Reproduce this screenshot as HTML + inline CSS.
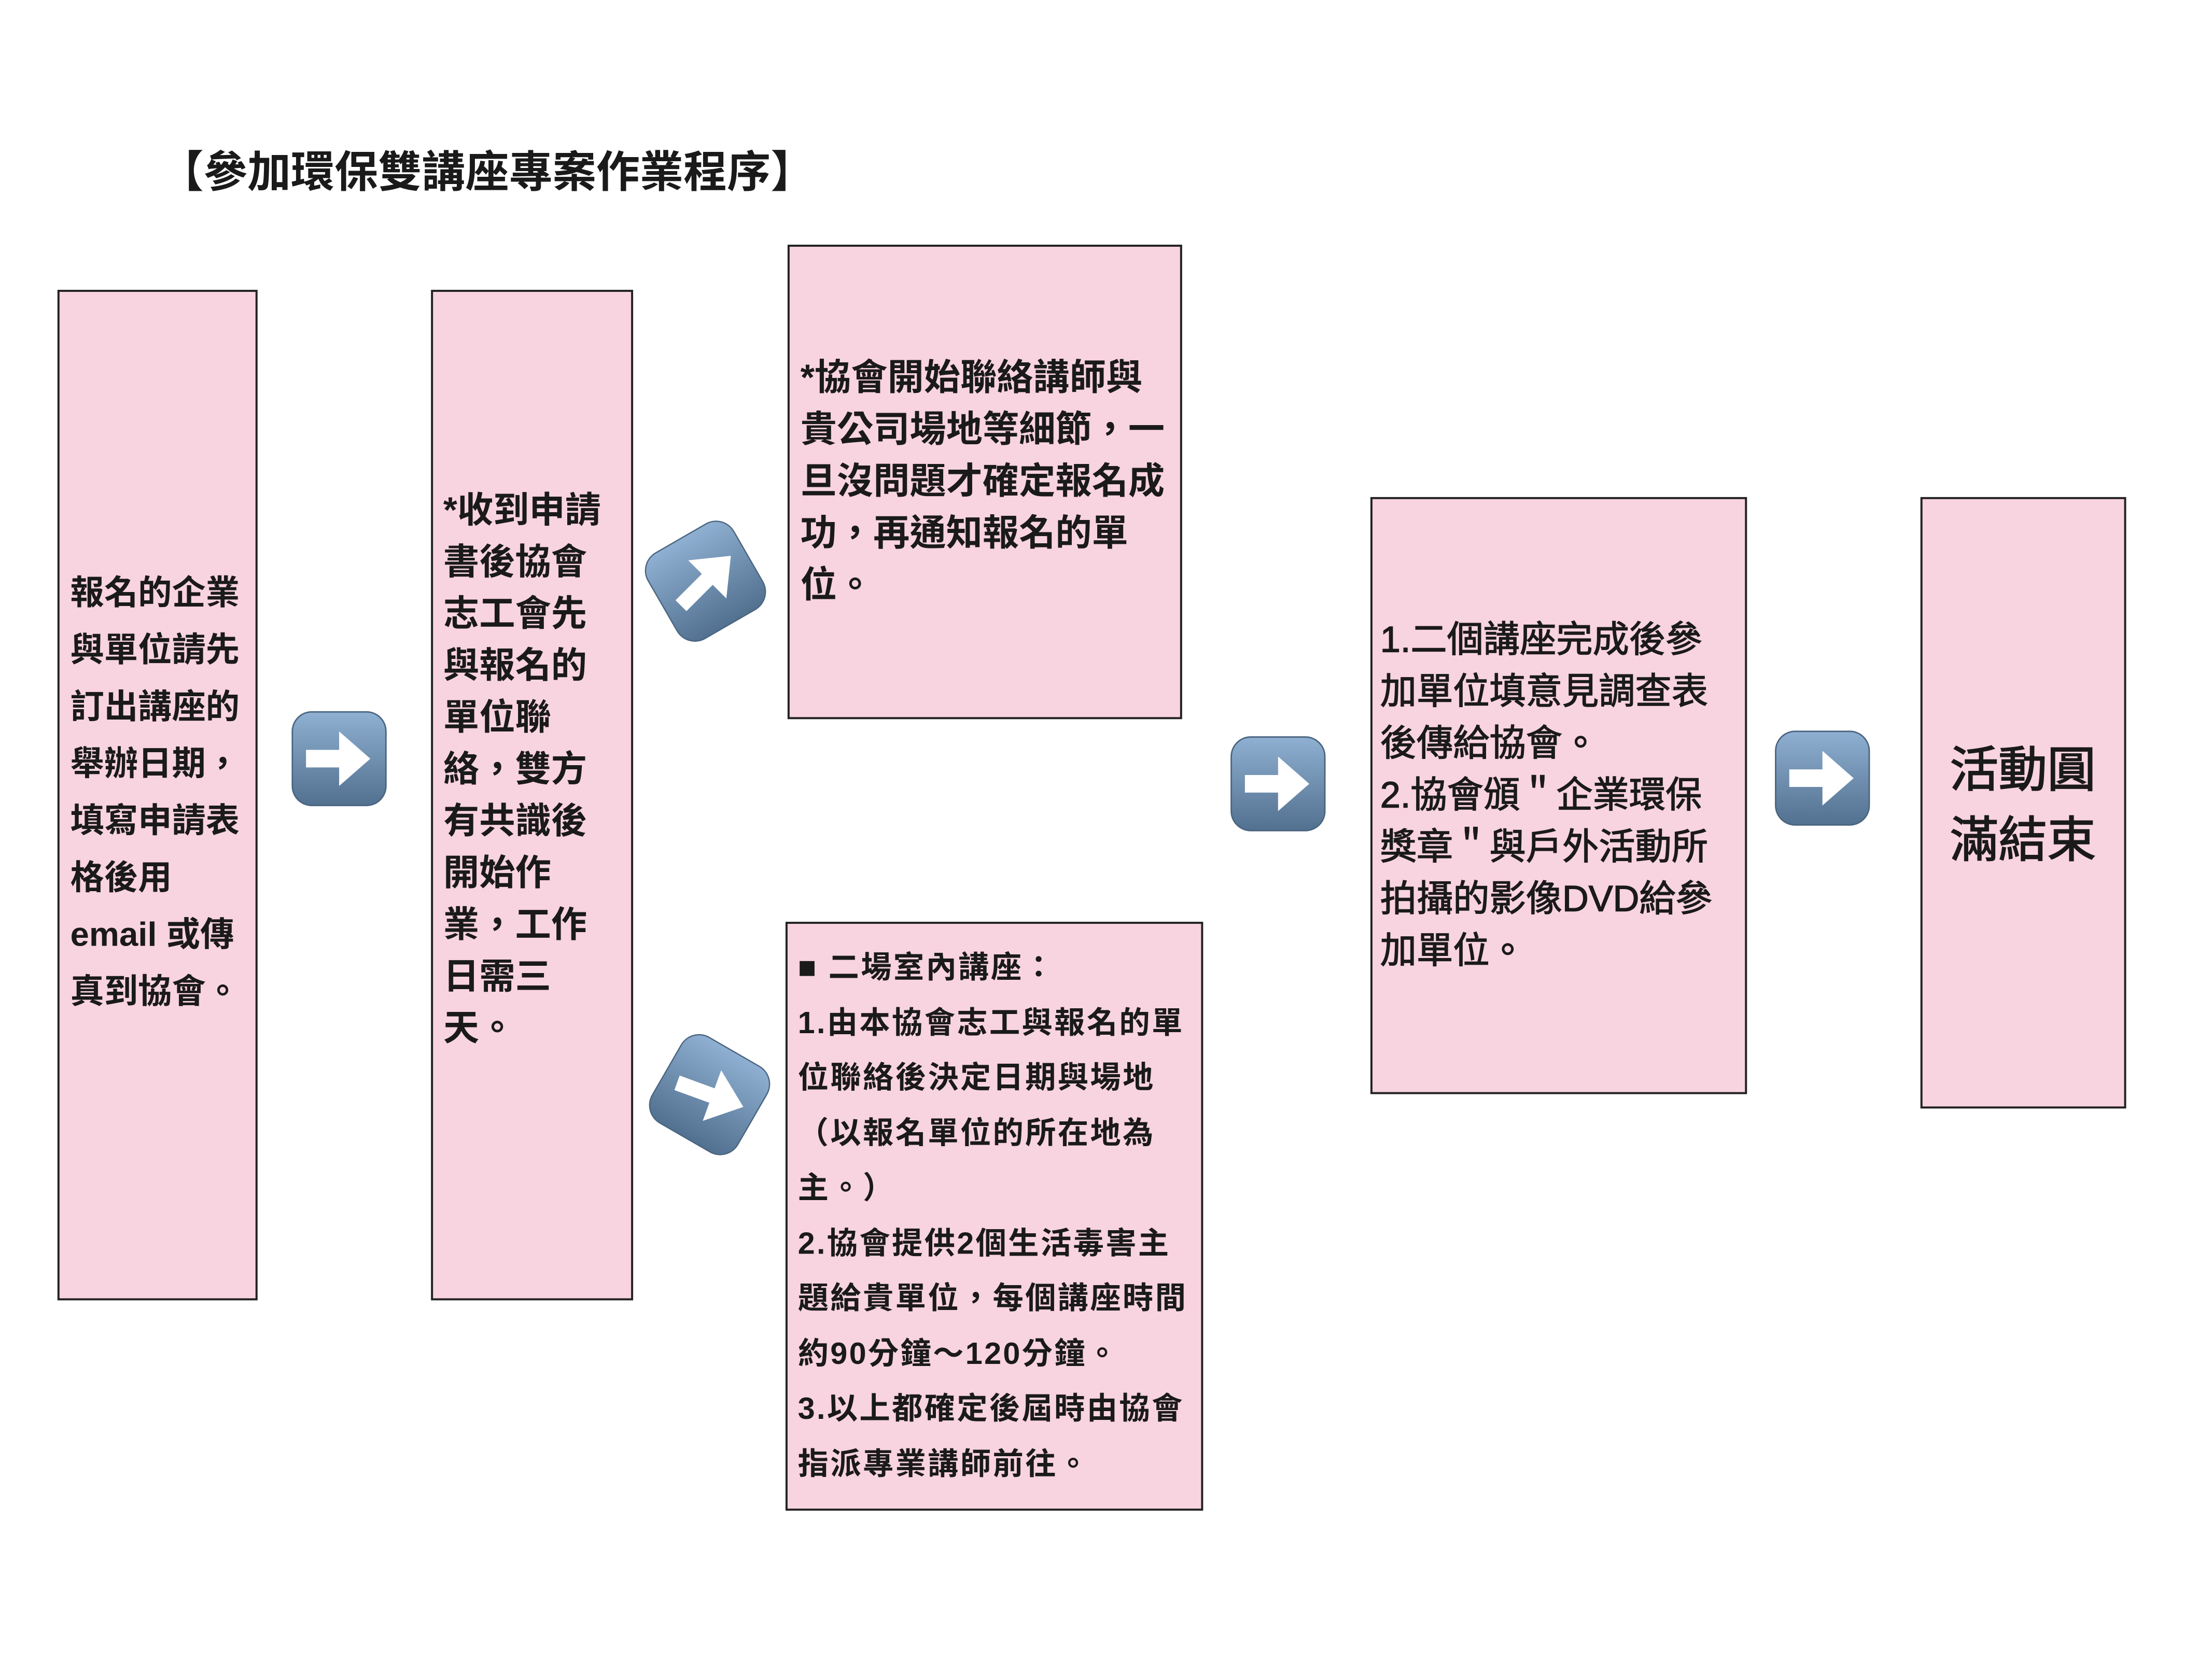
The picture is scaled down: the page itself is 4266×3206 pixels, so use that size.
<!DOCTYPE html>
<html><head><meta charset="utf-8"><style>
html,body{margin:0;padding:0;background:#fff;}
body{width:4266px;height:3201px;position:relative;overflow:hidden;font-family:"Liberation Sans","Noto Sans CJK TC",sans-serif;color:#1a1a1a;}
#w{position:absolute;left:0;top:0;width:4320px;height:3240px;transform:scale(0.9895);transform-origin:0 0;}
.box{position:absolute;background:#f8d3e0;border:4px solid #222;box-sizing:border-box;}
.t{position:absolute;white-space:nowrap;font-weight:bold;}
.arr{position:absolute;}
</style></head><body><div id="w">
<div class="t" style="left:312px;top:282px;font-size:85px;line-height:110px;">【參加環保雙講座專案作業程序】</div>

<div class="box" style="left:112px;top:565px;width:390px;height:1970px;"></div>
<div class="t" style="left:137px;top:1100px;font-size:66px;line-height:111px;">報名的企業<br>與單位請先<br>訂出講座的<br>舉辦日期，<br>填寫申請表<br>格後用<br>email 或傳<br>真到協會。</div>

<div class="box" style="left:840px;top:565px;width:394px;height:1970px;"></div>
<div class="t" style="left:864px;top:944px;font-size:70px;line-height:101px;">*收到申請<br>書後協會<br>志工會先<br>與報名的<br>單位聯<br>絡，雙方<br>有共識後<br>開始作<br>業，工作<br>日需三<br>天。</div>

<div class="box" style="left:1535px;top:477px;width:769px;height:925px;"></div>
<div class="t" style="left:1560px;top:686px;font-size:71px;line-height:101px;">*協會開始聯絡講師與<br>貴公司場地等細節，一<br>旦沒問題才確定報名成<br>功，再通知報名的單<br>位。</div>

<div class="box" style="left:1531px;top:1797px;width:814px;height:1148px;"></div>
<div class="t" style="left:1555px;top:1832px;font-size:60px;line-height:107.5px;letter-spacing:3.3px;">■ 二場室內講座：<br>1.由本協會志工與報名的單<br>位聯絡後決定日期與場地<br>（以報名單位的所在地為<br>主。）<br>2.協會提供2個生活毒害主<br>題給貴單位，每個講座時間<br>約90分鐘～120分鐘。<br>3.以上都確定後屆時由協會<br>指派專業講師前往。</div>

<div class="box" style="left:2671px;top:969px;width:734px;height:1164px;"></div>
<div class="t" style="left:2690px;top:1197px;font-size:71px;line-height:101px;font-weight:normal;-webkit-text-stroke:1.5px #1a1a1a;">1.二個講座完成後參<br>加單位填意見調查表<br>後傳給協會。<br>2.協會頒＂企業環保<br>獎章＂與戶外活動所<br>拍攝的影像DVD給參<br>加單位。</div>

<div class="box" style="left:3743px;top:969px;width:401px;height:1192px;"></div>
<div class="t" style="left:3800px;top:1433px;font-size:95px;line-height:137px;font-weight:normal;-webkit-text-stroke:2px #1a1a1a;">活動圓<br>滿結束</div>

<svg width="0" height="0" style="position:absolute">
<defs><linearGradient id="g" x1="0" y1="0" x2="0" y2="1"><stop offset="0" stop-color="#8fb0d2"/><stop offset="1" stop-color="#52708f"/></linearGradient></defs>
</svg>
<svg class="arr" style="left:566px;top:1384px" width="190" height="190" viewBox="0 0 100 100"><rect x="2" y="2" width="96" height="96" rx="20" fill="url(#g)" stroke="#4a6580" stroke-width="1.5"/><path d="M16 41 H50 V22 L82 50 L50 78 V59 H16 Z" fill="#fff"/></svg>
<svg class="arr" style="left:2396px;top:1433px" width="190" height="190" viewBox="0 0 100 100"><rect x="2" y="2" width="96" height="96" rx="20" fill="url(#g)" stroke="#4a6580" stroke-width="1.5"/><path d="M16 41 H50 V22 L82 50 L50 78 V59 H16 Z" fill="#fff"/></svg>
<svg class="arr" style="left:3457px;top:1422px" width="190" height="190" viewBox="0 0 100 100"><rect x="2" y="2" width="96" height="96" rx="20" fill="url(#g)" stroke="#4a6580" stroke-width="1.5"/><path d="M16 41 H50 V22 L82 50 L50 78 V59 H16 Z" fill="#fff"/></svg>
<svg class="arr" style="left:1250px;top:1008px" width="250" height="250" viewBox="0 0 100 100"><g transform="rotate(-30 50 50)"><rect x="11.5" y="11.5" width="77" height="77" rx="16" fill="url(#g)" stroke="#4a6580" stroke-width="1"/></g><g transform="rotate(-45 50 50)"><path d="M23 44 H52 V29 L78 50 L52 71 V56 H23 Z" fill="#fff"/></g></svg>
<svg class="arr" style="left:1258px;top:2009px" width="250" height="250" viewBox="0 0 100 100"><g transform="rotate(30 50 50)"><rect x="11.5" y="11.5" width="77" height="77" rx="16" fill="url(#g)" stroke="#4a6580" stroke-width="1"/></g><g transform="rotate(20 50 50)"><path d="M23 44 H52 V29 L78 50 L52 71 V56 H23 Z" fill="#fff"/></g></svg>
</div></body></html>
